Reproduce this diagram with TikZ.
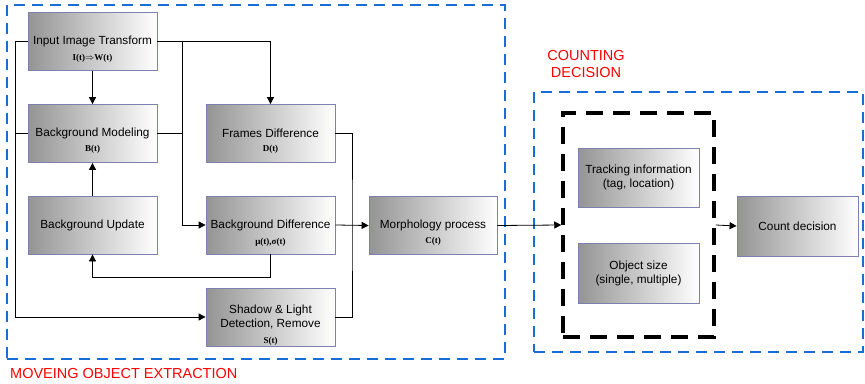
\documentclass[tikz,border=0pt]{standalone}
\usepackage{fontspec}
\setmainfont{Liberation Sans}
\newfontfamily\subfont{Liberation Serif}
\usetikzlibrary{arrows.meta}
\definecolor{frameblue}{RGB}{24,110,214}
\definecolor{boxedge}{RGB}{128,128,176}

\tikzset{
  blk/.style={draw=boxedge, line width=0.8pt, left color=black!42, middle color=black!13, right color=white,
    minimum width=129pt, minimum height=58pt, inner sep=0pt, align=center,
    font=\fontsize{11.8}{14}\selectfont},
  sub/.style={font=\subfont\bfseries\fontsize{9}{10}\selectfont, inner sep=0pt},
  conn/.style={line width=0.8pt},
  arr/.style={-{Triangle[length=7pt,width=7pt]}},
  stage/.style={draw=frameblue, line width=2.8pt, dash pattern=on 11pt off 7pt, inner sep=0pt},
  group/.style={draw=black, line width=3.5pt, dash pattern=on 17pt off 10pt, inner sep=0pt},
  stagename/.style={text=red, font=\fontsize{14.5}{17}\selectfont, align=center, inner sep=0pt}
}

\begin{document}
\begin{tikzpicture}[x=1pt,y=-1pt]
  \useasboundingbox (0,0) rectangle (865,383);

  \node[stage, minimum width=498pt, minimum height=354pt] (extract) at (256,182) {};
  \node[stage, minimum width=329pt, minimum height=260pt] (decision) at (698.5,222) {};
  \node[stagename, anchor=west] (extractname) at (10,373.5) {MOVEING OBJECT EXTRACTION};
  \node[stagename] (decisionname) at (586,64.5) {COUNTING\\DECISION};

  \node[blk] (input) at (92.5,41.5) {Input Image Transform};
  \node[sub] (inputsub) at (92.5,58) {I(t)$\Rightarrow$W(t)};
  \node[blk] (bgmod) at (92.5,133.5) {Background Modeling};
  \node[sub] (bgmodsub) at (92.5,149) {B(t)};
  \node[blk] (bgupd) at (92.5,225) {Background Update};
  \node[blk] (frames) at (270.5,133.5) {Frames Difference};
  \node[sub] (framessub) at (270.5,149) {D(t)};
  \node[blk] (bgdiff) at (270.5,225) {Background Difference};
  \node[sub] (bgdiffsub) at (270.5,242) {μ(t),σ(t)};
  \node[blk] (shadow) at (270.5,317) {Shadow \& Light\\Detection, Remove};
  \node[sub] (shadowsub) at (270.5,341) {S(t)};
  \node[blk, minimum width=128pt] (morph) at (433,225.5) {Morphology process};
  \node[sub] (morphsub) at (433,241) {C(t)};

  \node[group, minimum width=151pt, minimum height=224pt] (info) at (638.5,225) {};
  \node[blk, minimum width=121pt, minimum height=59pt] (track) at (638.5,177.5) {Tracking information\\(tag, location)};
  \node[blk, minimum width=121pt, minimum height=60pt] (objsize) at (638.5,273) {Object size\\(single, multiple)};
  \node[blk, minimum width=121pt, minimum height=60pt] (count) at (797.5,226) {Count decision};

  \coordinate (busl) at (15,41.5);
  \coordinate (busm) at (182,41.5);
  \coordinate (busr) at (352,225);

  \draw[conn,arr] (input.south) -- (bgmod.north);
  \draw[conn,arr] (bgupd.north) -- (bgmod.south);
  \draw[conn,arr] (input.west) -- (busl) |- (shadow.west);
  \draw[conn] (bgmod.west) -- (bgmod.west -| busl);
  \draw[conn,arr] (input.east) -| (frames.north);
  \draw[conn,arr] (busm) |- (bgdiff.west);
  \draw[conn] (bgmod.east) -- (bgmod.east -| busm);
  \draw[conn,arr] (bgdiff.south) -- ++(0,23) -| (bgupd.south);
  \draw[conn] (frames.east) -| (busr) |- (shadow.east);
  \draw[conn,arr] (bgdiff.east) -- (morph.west);
  \draw[conn,arr] (morph.east) -- (info.west);
  \draw[conn,arr] (info.east) -- (count.west);
\end{tikzpicture}
\end{document}
